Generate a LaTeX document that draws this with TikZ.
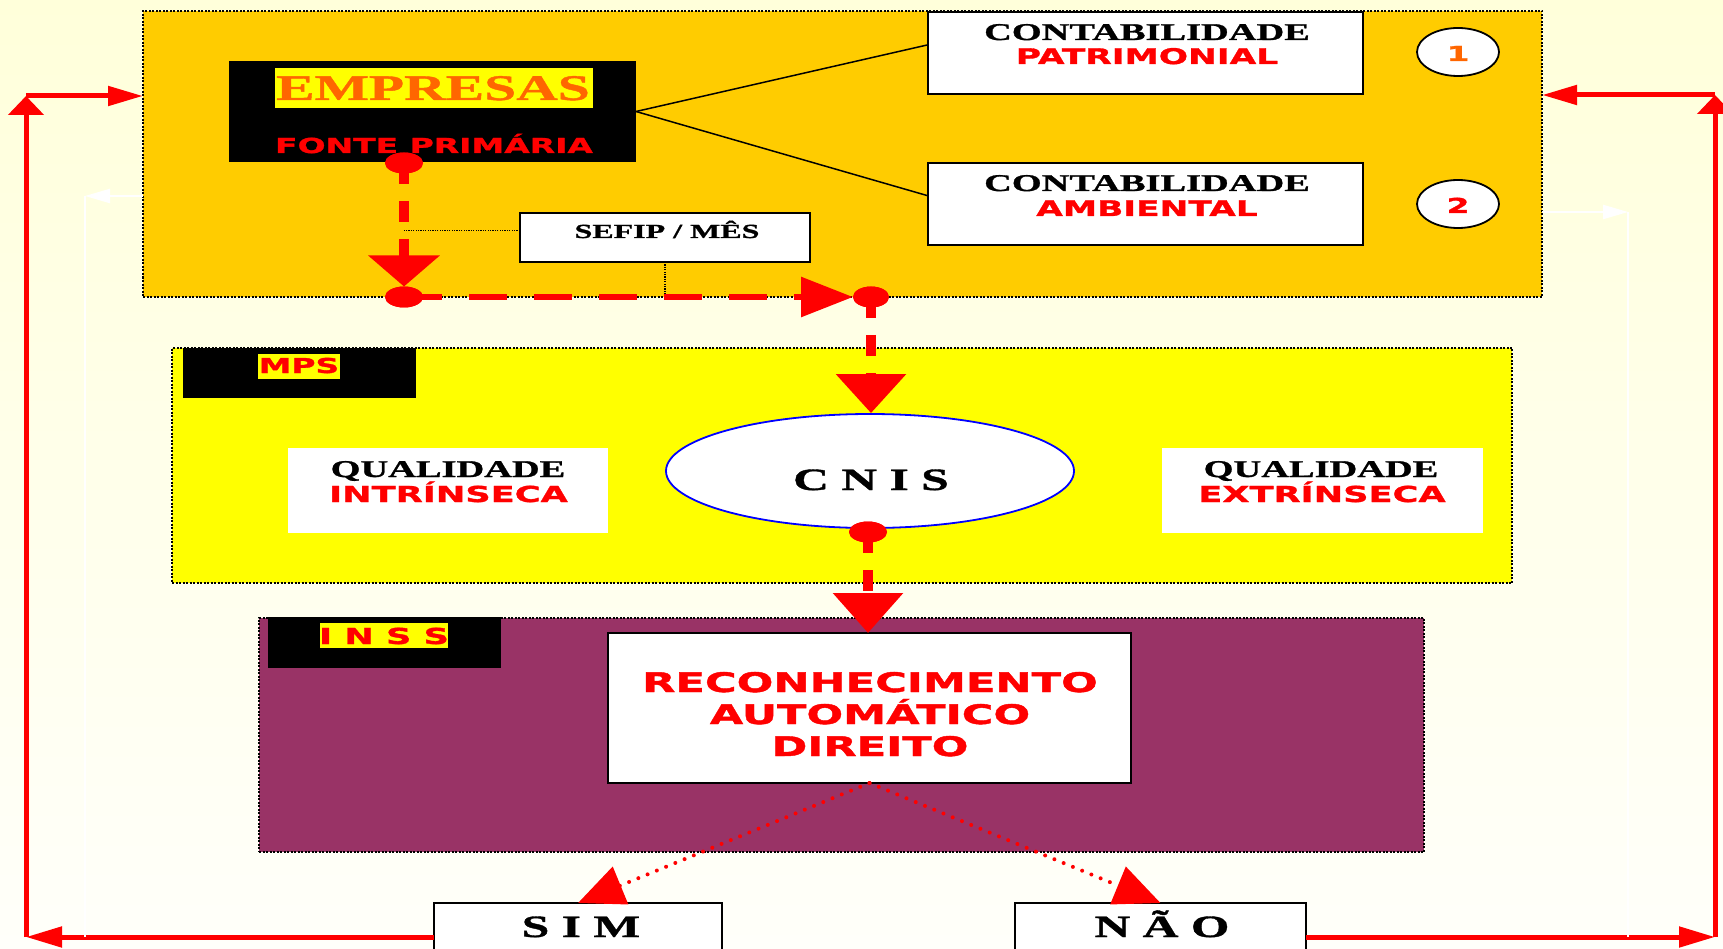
\documentclass[tikz,border=0pt]{standalone}
\usepackage{fontspec}
\usetikzlibrary{arrows.meta,shapes.geometric,calc}
\newfontfamily\serB[FakeStretch=1.6,FakeBold=1.2]{Liberation Serif Bold}
\newfontfamily\sanB[FakeStretch=1.6,FakeBold=1.5]{DejaVu Sans Bold}
\newcommand\TBf[1]{\serB\fontsize{#1pt}{#1pt}\selectfont}
\newcommand\SBf[1]{\sanB\fontsize{#1pt}{#1pt}\selectfont}
\definecolor{bgtop}{RGB}{255,255,218}
\definecolor{bgbot}{RGB}{255,255,250}
\definecolor{orangebox}{RGB}{255,204,0}
\definecolor{mpsyel}{RGB}{255,255,0}
\definecolor{inssp}{RGB}{153,51,102}
\definecolor{orangetxt}{RGB}{255,102,0}
\definecolor{rd}{RGB}{255,0,0}
\definecolor{cnisblue}{RGB}{0,0,255}
\begin{document}
\begin{tikzpicture}[x=1pt,y=-1pt,
  rect/.style={rectangle, inner sep=0pt, outer sep=0pt},
  panel/.style={rect, draw=black, line width=2pt, dash pattern=on 2pt off 1.5pt},
  wbox/.style={rect, fill=white, draw=black, line width=1.5pt},
  lab/.style={inner sep=0pt, outer sep=0pt, anchor=base},
  reddot/.style={ellipse, fill=rd, inner sep=0pt, outer sep=0pt, minimum width=38pt, minimum height=21pt},
  thinline/.style={draw=black, line width=1.5pt},
  blackdot/.style={draw=black, line width=1.2pt, dash pattern=on 1.2pt off 1.2pt},
  rdv/.style={draw=rd, line width=10pt, dash pattern=on 21pt off 17pt},
  rdh/.style={draw=rd, line width=6pt, dash pattern=on 38pt off 27pt},
  rdot/.style={draw=rd, line width=4pt, line cap=round, dash pattern=on 0pt off 10pt},
  rline/.style={draw=rd, line width=5pt},
  wline/.style={draw=white, line width=2.3pt},
]
\useasboundingbox (0,0) rectangle (1723,949);
\shade[top color=bgtop, bottom color=bgbot] (0,0) rectangle (1723,949);

% ---------- top panel ----------
\node[panel, fill=orangebox, minimum width=1399pt, minimum height=286pt] (top) at (842.5,154) {};
\node[rect, fill=black, minimum width=407pt, minimum height=101pt] (emp) at (432.5,111.5) {};
\node[rect, fill=mpsyel, minimum width=318pt, minimum height=40pt] (emphl) at (434,88) {};
\node[lab, text=orangetxt, font={\TBf{36}}] (empt) at (433,100) {EMPRESAS};
\node[lab, text=rd, font={\SBf{20.6}}] (fontet) at (434,153) {FONTE PRIMÁRIA};

\node[wbox, minimum width=435pt, minimum height=82pt] (pat) at (1145.5,53) {};
\node[lab, font={\TBf{24}}] (patt1) at (1147,40) {CONTABILIDADE};
\node[lab, text=rd, font={\SBf{21.5}}] (patt2) at (1147,64) {PATRIMONIAL};
\node[wbox, minimum width=435pt, minimum height=82pt] (amb) at (1145.5,204) {};
\node[lab, font={\TBf{24}}] (ambt1) at (1147,191) {CONTABILIDADE};
\node[lab, text=rd, font={\SBf{21.5}}] (ambt2) at (1147,216) {AMBIENTAL};

\node[ellipse, fill=white, draw=black, line width=1.8pt, inner sep=0pt, minimum width=82pt, minimum height=48pt] (c1) at (1458,52) {};
\node[lab, text=orangetxt, font={\SBf{20.6}}] (c1t) at (1458,61) {1};
\node[ellipse, fill=white, draw=black, line width=1.8pt, inner sep=0pt, minimum width=82pt, minimum height=48pt] (c2) at (1458,204) {};
\node[lab, text=rd, font={\SBf{20.6}}] (c2t) at (1458,213) {2};

\draw[thinline] (emp.east) -- ($(pat.north west)!0.4!(pat.south west)$);
\draw[thinline] (emp.east) -- ($(amb.north west)!0.4!(amb.south west)$);

\node[wbox, minimum width=290pt, minimum height=49pt] (sefip) at (665,237.5) {};
\node[lab, font={\TBf{20}}] (sefipt) at (667,238) {SEFIP / MÊS};

% ---------- MPS panel ----------
\node[panel, fill=mpsyel, minimum width=1340pt, minimum height=235pt] (mps) at (842,465.5) {};
\node[rect, fill=black, minimum width=233pt, minimum height=50pt] (mpslab) at (299.5,373) {};
\node[rect, fill=mpsyel, minimum width=82pt, minimum height=25pt] (mpshl) at (299,366.5) {};
\node[lab, text=rd, font={\SBf{20.5}}] (mpst) at (299,373) {MPS};
\node[rect, fill=white, minimum width=320pt, minimum height=85pt] (qi) at (448,490.5) {};
\node[lab, font={\TBf{24}}] (qit1) at (448,477) {QUALIDADE};
\node[lab, text=rd, font={\SBf{22}}] (qit2) at (448.5,502) {INTRÍNSECA};
\node[rect, fill=white, minimum width=321pt, minimum height=85pt] (qe) at (1322.5,490.5) {};
\node[lab, font={\TBf{24}}] (qet1) at (1321,477) {QUALIDADE};
\node[lab, text=rd, font={\SBf{22}}] (qet2) at (1322,502) {EXTRÍNSECA};
\node[ellipse, fill=white, draw=cnisblue, line width=1.8pt, inner sep=0pt, minimum width=408pt, minimum height=114pt] (cnis) at (870,471) {};
\node[lab, font={\TBf{31}}] (cnist) at (871,490) {C N I S};

% ---------- INSS panel ----------
\node[panel, fill=inssp, minimum width=1165pt, minimum height=234pt] (inss) at (841.5,735) {};
\node[rect, fill=black, minimum width=233pt, minimum height=51pt] (insslab) at (384.5,642.5) {};
\node[rect, fill=mpsyel, minimum width=128pt, minimum height=25pt] (insshl) at (384,635.5) {};
\node[lab, text=rd, font={\SBf{22}}] (insst) at (384,644) {I N S S};
\node[wbox, minimum width=523pt, minimum height=150pt] (reco) at (869.5,708) {};
\node[lab, text=rd, font={\SBf{27}}] (recot1) at (870,692) {RECONHECIMENTO};
\node[lab, text=rd, font={\SBf{27}}] (recot2) at (870,724) {AUTOMÁTICO};
\node[lab, text=rd, font={\SBf{27}}] (recot3) at (870,756) {DIREITO};

% ---------- answers ----------
\node[wbox, line width=2pt, minimum width=288pt, minimum height=68pt] (sim) at (578,937) {};
\node[lab, font={\TBf{31}}] (simt) at (581,937) {S I M};
\node[wbox, line width=2pt, minimum width=291pt, minimum height=68pt] (nao) at (1160.5,937) {};
\node[lab, font={\TBf{31}}] (naot) at (1162,937) {N Ã O};

% ---------- flow dots ----------
\node[reddot] (d1) at (404,163) {};
\node[reddot] (d2) at (404,297) {};
\node[reddot, minimum width=36pt] (d3) at (871,297) {};
\node[reddot] (d4) at (868,532) {};

\coordinate (sefipL) at ($(sefip.north west)!0.35!(sefip.south west)$);
\draw[blackdot] (sefipL) -- (sefipL -| d1);
\draw[blackdot] (sefip.south) -- (sefip.south |- d2);

\draw[rdv, -{Triangle[length=31pt,width=70pt]}] (d1.center) -- (d2.north);
\draw[rdh, -{Triangle[length=52pt,width=39pt]}] (d2.center) -- (d3.west);
\draw[rdv, -{Triangle[length=39pt,width=68pt]}] (d3.center) -- (d3 |- cnis.north);
\draw[rdv, -{Triangle[length=40pt,width=68pt]}] (d4.center) -- (d4 |- reco.north);
\node[reddot] (d1b) at (d1) {};
\node[reddot] (d2b) at (d2) {};
\node[reddot, minimum width=36pt] (d3b) at (d3) {};
\node[reddot] (d4b) at (d4) {};

\draw[rdot, -{Triangle[length=46pt,width=40pt]}] (reco.south) -- (sim.north);
\draw[rdot, -{Triangle[length=46pt,width=40pt]}] (reco.south) -- (nao.north);

% ---------- feedback loops ----------
\coordinate (lb) at (26,937);
\coordinate (lt) at (26,96);
\coordinate (rb) at (1715,937);
\coordinate (rt) at (1715,95);
\draw[rline, -{Triangle[length=36pt,width=20pt]}] (sim.west) -- (lb);
\draw[rline, -{Triangle[length=19pt,width=35pt]}] (lb) -- (lt);
\draw[rline, -{Triangle[length=35pt,width=19pt]}] (lt) -- (lt -| top.west);
\draw[rline, -{Triangle[length=36pt,width=20pt]}] (nao.east) -- (rb);
\draw[rline, -{Triangle[length=19pt,width=35pt]}] (rb) -- (rt);
\draw[rline, -{Triangle[length=35pt,width=19pt]}] (rt) -- (rt -| top.east);

\coordinate (wl) at (85,196);
\coordinate (wlb) at (85,937);
\coordinate (wr) at (1628,212);
\coordinate (wrb) at (1628,937);
\draw[wline, -{Triangle[length=25pt,width=14pt]}] (wl -| top.west) -- (wl);
\draw[wline] (wl) -- (wlb);
\draw[wline, -{Triangle[length=25pt,width=14pt]}] (wr -| top.east) -- (wr);
\draw[wline] (wr) -- (wrb);
\end{tikzpicture}
\end{document}
